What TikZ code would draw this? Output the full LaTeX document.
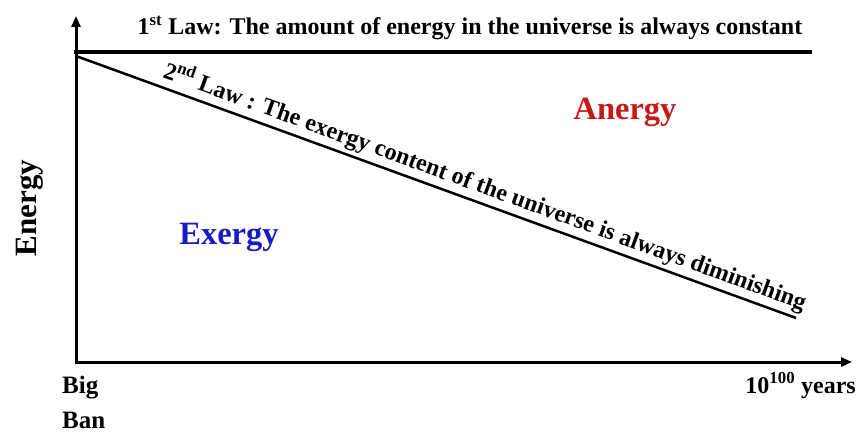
\documentclass[tikz,border=0pt]{standalone}
\usepackage{fontspec}
\setmainfont{Liberation Serif}
\usetikzlibrary{arrows.meta}
\definecolor{anred}{RGB}{200,25,25}
\definecolor{exblue}{RGB}{25,25,200}
\tikzset{
  axis/.style={line width=3pt,-{Triangle[length=11pt,width=9pt]}},
  lbl/.style={font=\bfseries\fontsize{24}{26}\selectfont, inner sep=0pt},
  big/.style={font=\bfseries\fontsize{32.5}{35}\selectfont, inner sep=0pt},
}
\begin{document}
\begin{tikzpicture}[x=1pt,y=-1pt]
\useasboundingbox (0,0) rectangle (858,433);
\coordinate (o) at (76,362);
\coordinate (ytip) at (76,16);
\coordinate (xtip) at (852,362);
\coordinate (h1) at (74,52);
\coordinate (h2) at (812,52);
\coordinate (d1) at (76,56);
\coordinate (d2) at (796,318);
\draw[axis] ([yshift=1.5pt]o) -- (ytip);
\draw[axis] ([xshift=-1.5pt]o) -- (xtip);
\draw[line width=4pt] (h1) -- (h2);
\draw[line width=2.5pt] (d1) -- (d2)
  node[pos=0.56, sloped, above=3pt, lbl] (law2)
  {2\textsuperscript{nd} Law : The exergy content of the universe is always diminishing};
\node[lbl, anchor=base] (law1) at (470,35) {1\textsuperscript{st} Law: The amount of energy in the universe is always constant};
\node[big, text=anred] (anergy) at (625,112) {Anergy};
\node[big, text=exblue] (exergy) at (229,237) {Exergy};
\node[big, rotate=90, font=\bfseries\fontsize{31}{33}\selectfont] (energy) at (30,208) {Energy};
\node[lbl, anchor=base west, font=\bfseries\fontsize{25}{27}\selectfont] (bigb) at (62,393) {Big};
\node[lbl, anchor=base west, font=\bfseries\fontsize{25}{27}\selectfont] (ban) at (62,428) {Ban};
\node[lbl, anchor=base east] (years) at (856,393) {10\textsuperscript{100} years};
\end{tikzpicture}
\end{document}
